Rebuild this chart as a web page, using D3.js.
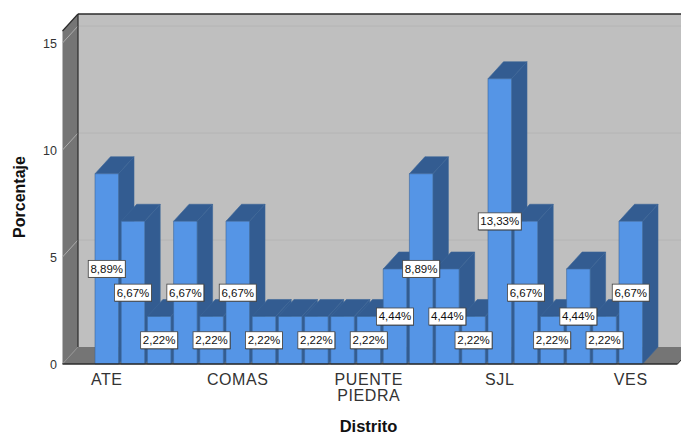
<!DOCTYPE html>
<html>
<head>
<meta charset="utf-8">
<script src="https://cdn.jsdelivr.net/npm/d3@7/dist/d3.min.js"></script>
<style>
html,body{margin:0;padding:0;background:#fff}
svg{display:block}
text{font-family:"Liberation Sans",Arial,sans-serif}
</style>
</head>
<body>
<svg id="chart" width="681" height="434"></svg>
<script>
// Percentage of respondents per district; only every fifth district name is printed on the axis.
const categories = ["ATE","","","","","COMAS","","","","","PUENTE PIEDRA","","","","","SJL","","","","","VES"];
const values = [8.89,6.67,2.22,6.67,2.22,6.67,2.22,2.22,2.22,2.22,2.22,4.44,8.89,4.44,2.22,13.33,6.67,2.22,4.44,2.22,6.67];
const valueLabels = ["8,89%","6,67%","2,22%","6,67%","2,22%","6,67%","2,22%","","2,22%","","2,22%","4,44%","8,89%","4,44%","2,22%","13,33%","6,67%","2,22%","4,44%","2,22%","6,67%"];
const yTicks = [0,5,10,15];

const FRONT="#5595e6", SHADE="#335c91", WALL="#bfbfbf", SIDEWALL="#757575";
const depthX=15.5, depthY=17;
const yTop=15.56;

const svg=d3.select("#chart");
const y=d3.scaleLinear().domain([0,15]).range([364,43]);
const x=d3.scaleBand().domain(d3.range(categories.length)).range([95,642.5]).paddingInner(0.103).paddingOuter(0);

const left=62.5, right=677.5;
const poly=(pts,fill)=>svg.append("polygon").attr("points",pts.map(p=>p.join(",")).join(" ")).attr("fill",fill);
const line=(a,b,color,w)=>svg.append("line").attr("x1",a[0]).attr("y1",a[1]).attr("x2",b[0]).attr("y2",b[1])
  .attr("stroke",color).attr("stroke-width",w||1);

// Back wall, left wall and floor of the 3D box
poly([[left+depthX,y(yTop)-depthY],[right+depthX,y(yTop)-depthY],[right+depthX,y(0)-depthY],[left+depthX,y(0)-depthY]],WALL);
poly([[left,y(yTop)],[left+depthX,y(yTop)-depthY],[left+depthX,y(0)-depthY],[left,y(0)]],SIDEWALL);
poly([[left,y(0)],[right,y(0)],[right+depthX,y(0)-depthY],[left+depthX,y(0)-depthY]],SIDEWALL);

// Gridlines run along the back wall and fold down the left wall
yTicks.filter(t=>t>0).forEach(t=>{
  line([left+depthX,y(t)-depthY],[right+depthX,y(t)-depthY],"#b4b4b4");
  line([left,y(t)],[left+depthX,y(t)-depthY],"#adadad");
});
line([left,y(0)],[left+depthX,y(0)-depthY],"#8f8f8f");

// Box edges
line([left+depthX,y(yTop)-depthY],[right+depthX,y(yTop)-depthY],"#2b2b2b",1.4);
line([left+depthX,y(yTop)-depthY],[left+depthX,y(0)-depthY],"#2b2b2b",1.2);
line([left,y(yTop)],[left+depthX,y(yTop)-depthY],"#2b2b2b",1.2);

// Bars, painted left to right so each one overlaps its neighbour's side face
svg.append("g").selectAll("g").data(values).join("g").each(function(v,i){
  const g=d3.select(this), x0=x(i), x1=x0+x.bandwidth(), top=y(v), base=y(0);
  const face=(pts,fill)=>g.append("polygon").attr("points",pts.map(p=>p.join(",")).join(" "))
    .attr("fill",fill).attr("stroke","#3c6699").attr("stroke-width",0.6);
  face([[x0,top],[x0+depthX,top-depthY],[x1+depthX,top-depthY],[x1,top]],SHADE);
  face([[x1,top],[x1+depthX,top-depthY],[x1+depthX,base-depthY],[x1,base]],SHADE);
  face([[x0,top],[x1,top],[x1,base],[x0,base]],FRONT);
});

// Front edge of the floor, drawn over the bar feet
line([left,y(0)],[right,y(0)],"#2b2b2b",1.4);
line([right,y(0)],[right+depthX,y(0)-depthY],"#2b2b2b",1);

// Value labels sit halfway up each bar
values.forEach((v,i)=>{
  if(!valueLabels[i]) return;
  const cx=x(i)+x.bandwidth()/2, cy=y(v/2);
  const w=valueLabels[i].length>5?43:37, h=17;
  svg.append("rect").attr("x",cx-w/2+0.5).attr("y",cy-h/2+0.5).attr("width",w).attr("height",h)
    .attr("fill","#333");
  svg.append("rect").attr("x",cx-w/2).attr("y",cy-h/2).attr("width",w).attr("height",h)
    .attr("fill","#fff").attr("stroke","#444").attr("stroke-width",0.8);
  svg.append("text").attr("x",cx).attr("y",cy+4).attr("text-anchor","middle")
    .attr("font-size",11.5).attr("fill","#111").text(valueLabels[i]);
});

// Y axis labels
const yAxis=svg.append("g").attr("transform","translate(57,0)")
  .call(d3.axisLeft(y).tickValues(yTicks).tickSize(0).tickPadding(0));
yAxis.select(".domain").remove();
yAxis.selectAll("text").attr("font-size",12.5).attr("fill","#333").style("font-family",'"Liberation Sans",Arial,sans-serif');

// District names under every fifth bar, wrapped onto two lines where needed
const tickIdx=d3.range(categories.length).filter(i=>categories[i]);
const xAxis=svg.append("g").attr("transform","translate(0,364)")
  .call(d3.axisBottom(x).tickValues(tickIdx).tickSize(0).tickPadding(0).tickFormat(()=>""));
xAxis.select(".domain").remove();
xAxis.selectAll(".tick text").remove();
xAxis.selectAll(".tick").each(function(i){
  const t=d3.select(this).append("text").attr("text-anchor","middle")
    .attr("font-size",16).attr("fill","#333").style("letter-spacing","0.6px");
  categories[i].split(" ").forEach((w,k)=>t.append("tspan").attr("x",0).attr("y",21+k*16).text(w));
});

// Axis titles
svg.append("text").attr("x",368.5).attr("y",432).attr("text-anchor","middle")
  .attr("font-size",16.5).attr("font-weight","bold").attr("fill","#111").text("Distrito");
svg.append("text").attr("transform","translate(25,197) rotate(-90)").attr("text-anchor","middle")
  .attr("font-size",16).attr("font-weight","bold").attr("fill","#111").text("Porcentaje");
</script>
</body>
</html>
